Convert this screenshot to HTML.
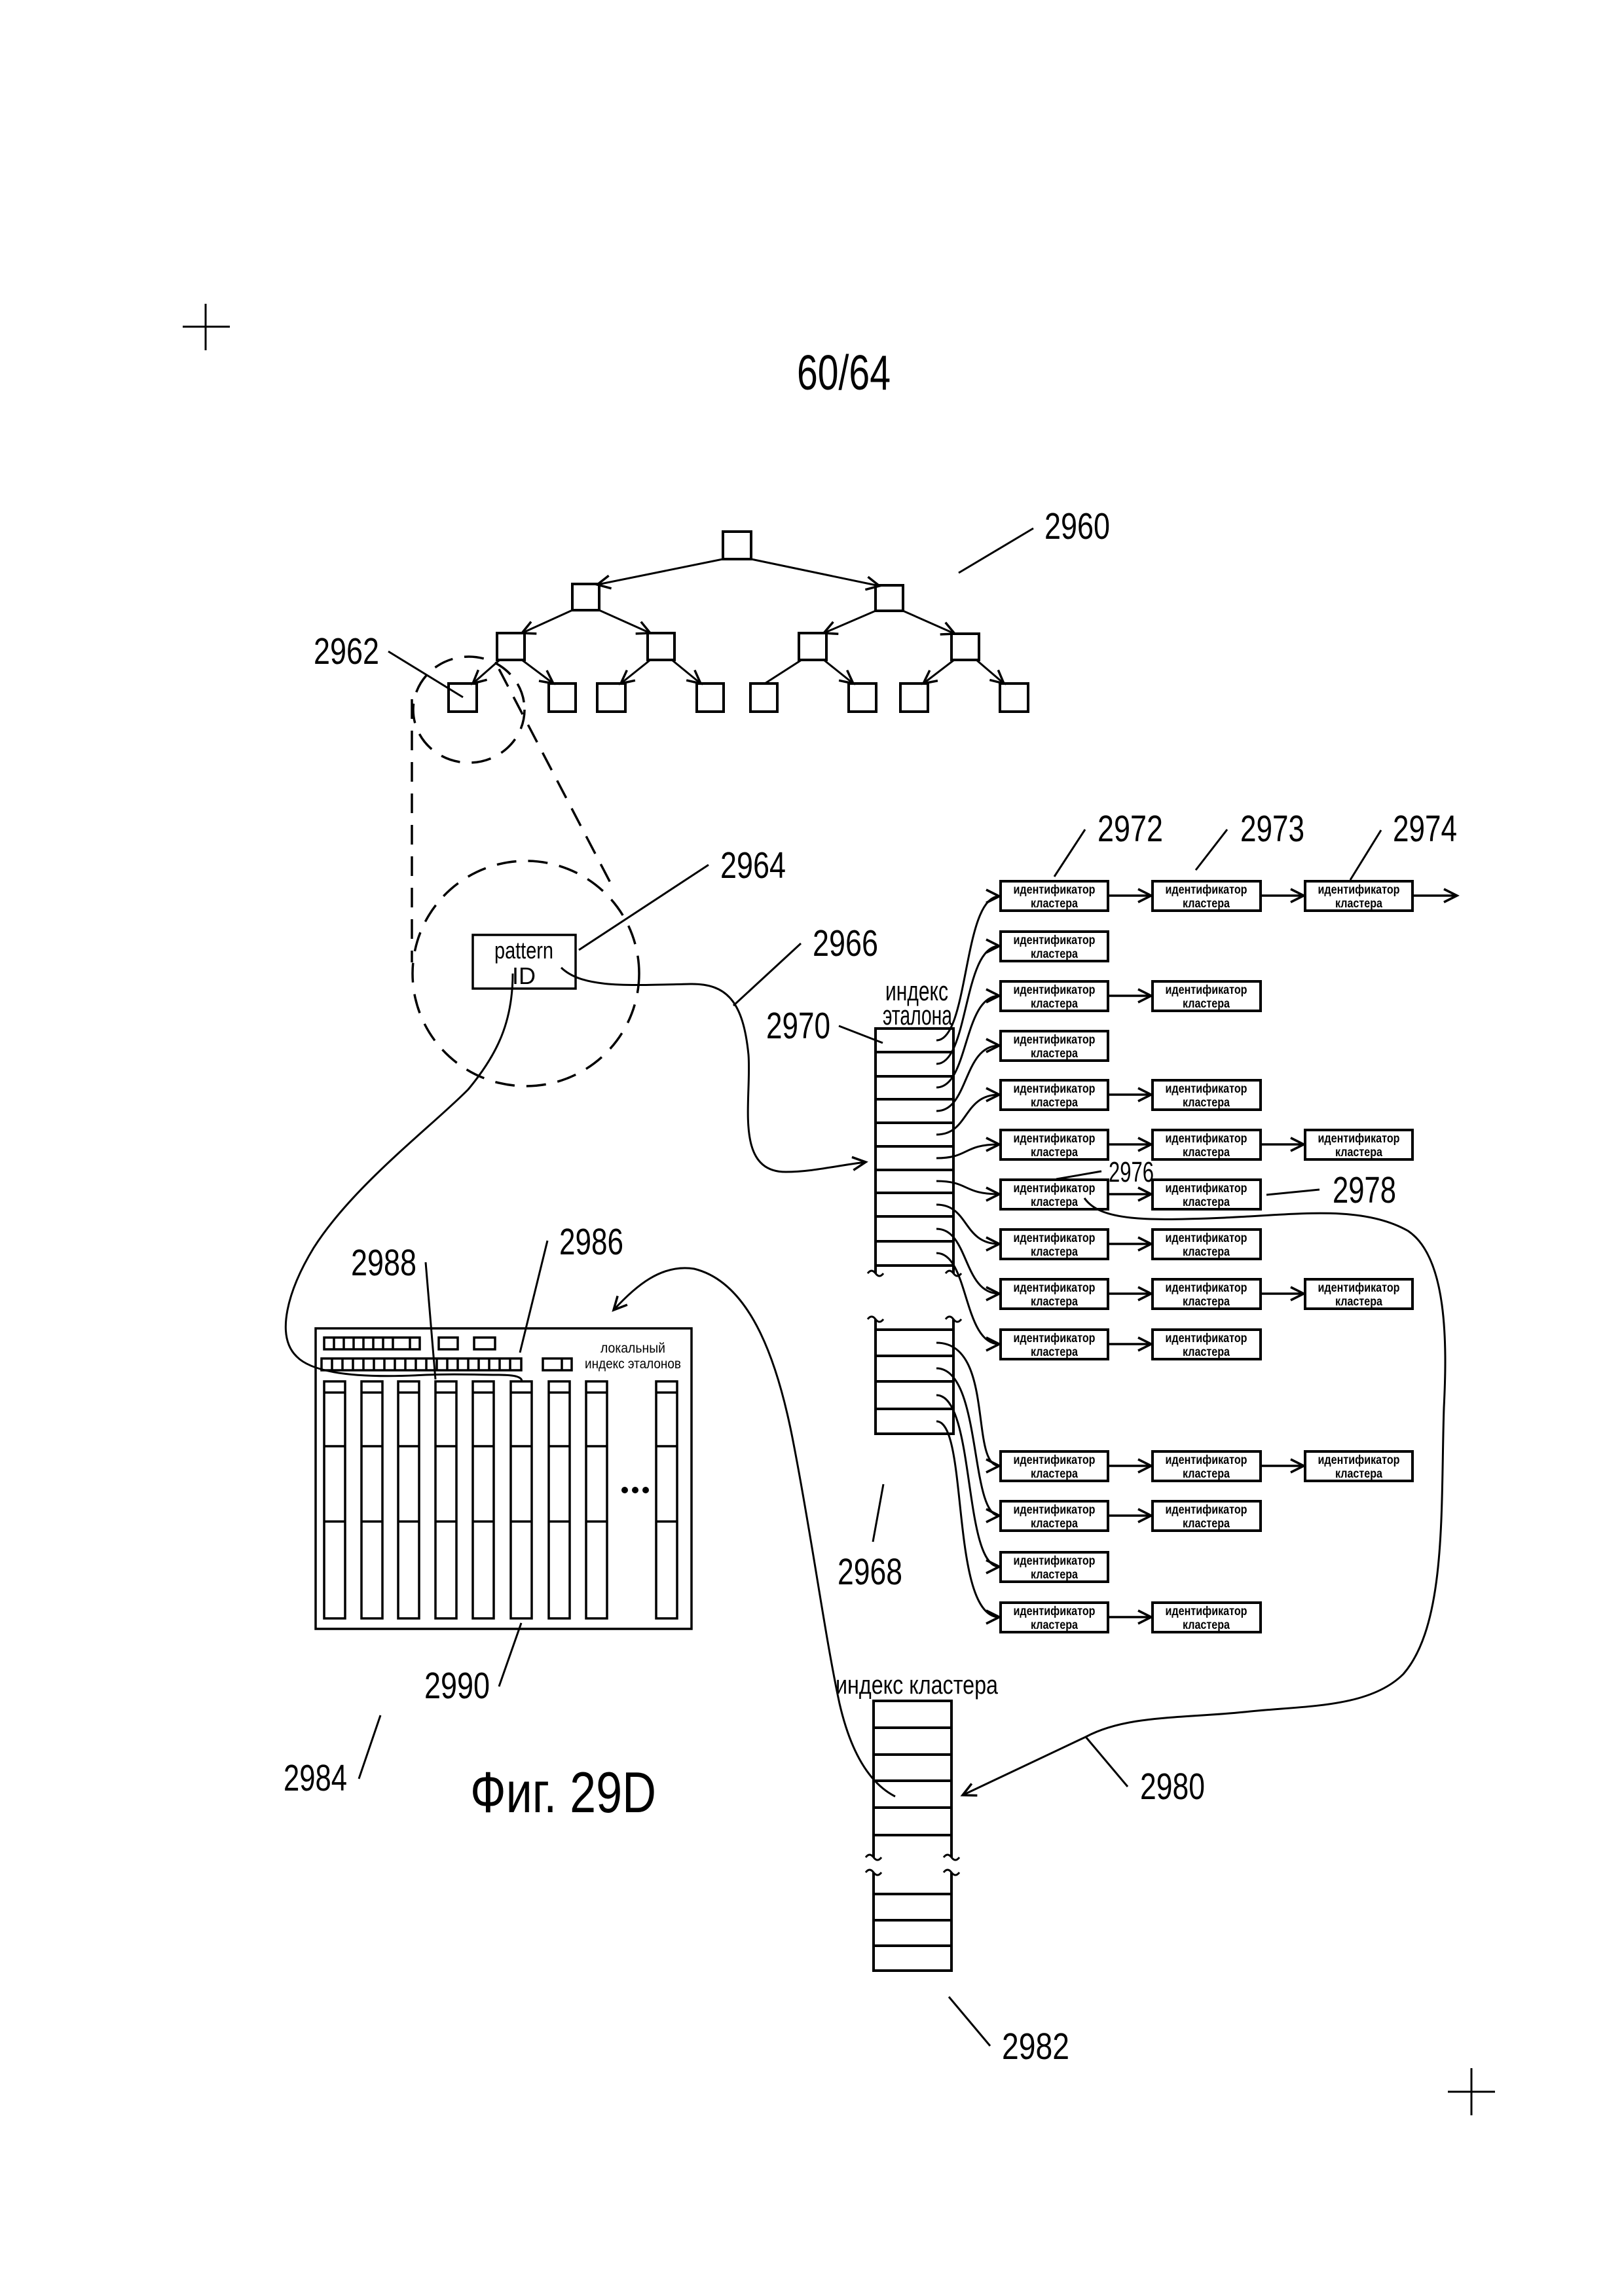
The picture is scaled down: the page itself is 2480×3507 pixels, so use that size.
<!DOCTYPE html>
<html><head><meta charset="utf-8"><style>
html,body{margin:0;padding:0;background:#fff}
svg{display:block}
text{font-family:"Liberation Sans Narrow","Liberation Sans",sans-serif;fill:#000}
.b text{font-size:19px;font-weight:bold;text-anchor:middle}
</style></head><body>
<svg width="2480" height="3507" viewBox="0 0 2480 3507" xmlns="http://www.w3.org/2000/svg">
<defs>
<marker id="a" markerUnits="userSpaceOnUse" markerWidth="30" markerHeight="30" refX="22" refY="12" orient="auto"><path d="M2,2 L22,12 L2,22" fill="none" stroke="#000" stroke-width="3.5"/></marker>
</defs>
<g stroke="#000" fill="none" stroke-width="3">
<path d="M279,499 H351 M314,464 V535"/>
<path d="M2211,3195 H2283 M2247,3159 V3231"/>
</g>
<text x="1217" y="595" font-size="75" textLength="143" lengthAdjust="spacingAndGlyphs">60/64</text>

<!-- tree -->
<g stroke="#000" fill="none" stroke-width="4">
<rect x="1104" y="812" width="43" height="42"/>
<rect x="874" y="892" width="41" height="40"/>
<rect x="1337" y="894" width="42" height="39"/>
<rect x="759" y="967" width="42" height="41"/>
<rect x="989" y="967" width="41" height="41"/>
<rect x="1220" y="967" width="42" height="41"/>
<rect x="1453" y="968" width="42" height="40"/>
<rect x="685" y="1044" width="43" height="43"/>
<rect x="838" y="1044" width="41" height="43"/>
<rect x="912" y="1044" width="43" height="43"/>
<rect x="1064" y="1044" width="41" height="43"/>
<rect x="1146" y="1044" width="41" height="43"/>
<rect x="1296" y="1044" width="42" height="43"/>
<rect x="1375" y="1044" width="42" height="43"/>
<rect x="1527" y="1044" width="43" height="43"/>
</g>
<g stroke="#000" fill="none" stroke-width="3" marker-end="url(#a)">
<path d="M1104,854 L912,893"/>
<path d="M1147,854 L1343,895"/>
<path d="M874,932 L797,967"/>
<path d="M915,932 L993,967"/>
<path d="M1337,933 L1258,967"/>
<path d="M1379,933 L1458,968"/>
<path d="M763,1008 L722,1044"/>
<path d="M797,1008 L845,1044"/>
<path d="M993,1008 L948,1044"/>
<path d="M1026,1008 L1070,1044"/>
<path d="M1258,1008 L1303,1044"/>
<path d="M1457,1008 L1410,1044"/>
<path d="M1491,1008 L1533,1044"/>
</g>
<path d="M1224,1008 L1168,1044" stroke="#000" stroke-width="3"/>

<g stroke="#000" stroke-width="3" fill="none">
<path d="M1464,875 L1578,807"/>
<path d="M593,995 L707,1065"/>
<path d="M884,1451 L1082,1321"/>
<path d="M1120,1536 L1223,1441"/>
<path d="M1281,1567 L1348,1593"/>
<path d="M1610,1339 L1657,1267"/>
<path d="M1826,1329 L1874,1267"/>
<path d="M2062,1344 L2109,1268"/>
<path d="M1613,1801 L1682,1789"/>
<path d="M1934,1825 L2015,1817"/>
<path d="M1333,2355 L1349,2267"/>
<path d="M1658,2653 L1722,2729"/>
<path d="M1449,3050 L1512,3125"/>
<path d="M548,2717 L581,2620"/>
<path d="M762,2576 L796,2479"/>
<path d="M650,1928 L665,2107"/>
<path d="M836,1895 L794,2066"/>
</g>
<g font-size="57">
<text x="1595" y="823" textLength="100" lengthAdjust="spacingAndGlyphs">2960</text>
<text x="479" y="1014" textLength="100" lengthAdjust="spacingAndGlyphs">2962</text>
<text x="1100" y="1341" textLength="100" lengthAdjust="spacingAndGlyphs">2964</text>
<text x="1241" y="1460" textLength="100" lengthAdjust="spacingAndGlyphs">2966</text>
<text x="1170" y="1586" textLength="98" lengthAdjust="spacingAndGlyphs">2970</text>
<text x="1676" y="1285" textLength="100" lengthAdjust="spacingAndGlyphs">2972</text>
<text x="1894" y="1285" textLength="98" lengthAdjust="spacingAndGlyphs">2973</text>
<text x="2127" y="1285" textLength="98" lengthAdjust="spacingAndGlyphs">2974</text>
<text x="2035" y="1837" textLength="97" lengthAdjust="spacingAndGlyphs">2978</text>
<text x="1279" y="2420" textLength="99" lengthAdjust="spacingAndGlyphs">2968</text>
<text x="1741" y="2748" textLength="99" lengthAdjust="spacingAndGlyphs">2980</text>
<text x="1530" y="3145" textLength="103" lengthAdjust="spacingAndGlyphs">2982</text>
<text x="433" y="2735" textLength="97" lengthAdjust="spacingAndGlyphs">2984</text>
<text x="648" y="2594" textLength="100" lengthAdjust="spacingAndGlyphs">2990</text>
<text x="536" y="1948" textLength="100" lengthAdjust="spacingAndGlyphs">2988</text>
<text x="854" y="1916" textLength="98" lengthAdjust="spacingAndGlyphs">2986</text>
</g>
<text x="1693" y="1805" font-size="44" textLength="69" lengthAdjust="spacingAndGlyphs">2976</text>
<text x="718" y="2768" font-size="88" textLength="284" lengthAdjust="spacingAndGlyphs">Фиг. 29D</text>

<g stroke="#000" stroke-width="3.5" fill="none" stroke-dasharray="30 18">
<ellipse cx="716" cy="1084" rx="85" ry="81"/>
<ellipse cx="803" cy="1487" rx="173" ry="172"/>
<path d="M629,1068 L629,1470"/>
<path d="M762,1022 L933,1350"/>
</g>

<rect x="722" y="1428" width="157" height="82" stroke="#000" stroke-width="3.5" fill="#fff"/>
<text x="755" y="1464" font-size="36" textLength="90" lengthAdjust="spacingAndGlyphs">pattern</text>
<text x="800" y="1503" font-size="36" text-anchor="middle">ID</text>

<text x="1352" y="1528" font-size="42" textLength="96" lengthAdjust="spacingAndGlyphs">индекс</text>
<text x="1348" y="1565" font-size="42" textLength="106" lengthAdjust="spacingAndGlyphs">эталона</text>
<text x="1276" y="2587" font-size="40" textLength="248" lengthAdjust="spacingAndGlyphs">индекс кластера</text>

<g stroke="#000" stroke-width="4" fill="none">
<path d="M1337,1945 V1571 H1456 V1945"/>
<path d="M1337,1607 H1456 M1337,1644 H1456 M1337,1679 H1456 M1337,1715 H1456 M1337,1751 H1456 M1337,1787 H1456 M1337,1822 H1456 M1337,1858 H1456 M1337,1896 H1456 M1337,1933 H1456"/>
<path d="M1337,2015 V2190 H1456 V2015 M1337,2031 H1456 M1337,2071 H1456 M1337,2110 H1456 M1337,2152 H1456"/>
<path d="M1334,2837 V2598 H1453 V2837 M1334,2639 H1453 M1334,2680 H1453 M1334,2720 H1453 M1334,2761 H1453 M1334,2803 H1453"/>
<path d="M1334,2860 V3010 H1453 V2860 M1334,2893 H1453 M1334,2933 H1453 M1334,2972 H1453"/>
</g>
<g stroke="#000" stroke-width="3" fill="none">
<path d="M1325,1945 q6,-8 12,0 q6,8 12,0 M1444,1945 q6,-8 12,0 q6,8 12,0"/>
<path d="M1325,2015 q6,-8 12,0 q6,8 12,0 M1444,2015 q6,-8 12,0 q6,8 12,0"/>
<path d="M1322,2837 q6,-8 12,0 q6,8 12,0 M1441,2837 q6,-8 12,0 q6,8 12,0"/>
<path d="M1322,2860 q6,-8 12,0 q6,8 12,0 M1441,2860 q6,-8 12,0 q6,8 12,0"/>
</g>

<g class="b" stroke-width="0">
<g transform="translate(1528,1346)"><rect width="164" height="45" fill="#fff" stroke="#000" stroke-width="4"/><text x="82" y="19" textLength="125" lengthAdjust="spacingAndGlyphs">идентификатор</text><text x="82" y="40" textLength="72" lengthAdjust="spacingAndGlyphs">кластера</text></g>
<g transform="translate(1760,1346)"><rect width="165" height="45" fill="#fff" stroke="#000" stroke-width="4"/><text x="82" y="19" textLength="125" lengthAdjust="spacingAndGlyphs">идентификатор</text><text x="82" y="40" textLength="72" lengthAdjust="spacingAndGlyphs">кластера</text></g>
<g transform="translate(1993,1346)"><rect width="164" height="45" fill="#fff" stroke="#000" stroke-width="4"/><text x="82" y="19" textLength="125" lengthAdjust="spacingAndGlyphs">идентификатор</text><text x="82" y="40" textLength="72" lengthAdjust="spacingAndGlyphs">кластера</text></g>
<g transform="translate(1528,1423)"><rect width="164" height="45" fill="#fff" stroke="#000" stroke-width="4"/><text x="82" y="19" textLength="125" lengthAdjust="spacingAndGlyphs">идентификатор</text><text x="82" y="40" textLength="72" lengthAdjust="spacingAndGlyphs">кластера</text></g>
<g transform="translate(1528,1499)"><rect width="164" height="45" fill="#fff" stroke="#000" stroke-width="4"/><text x="82" y="19" textLength="125" lengthAdjust="spacingAndGlyphs">идентификатор</text><text x="82" y="40" textLength="72" lengthAdjust="spacingAndGlyphs">кластера</text></g>
<g transform="translate(1760,1499)"><rect width="165" height="45" fill="#fff" stroke="#000" stroke-width="4"/><text x="82" y="19" textLength="125" lengthAdjust="spacingAndGlyphs">идентификатор</text><text x="82" y="40" textLength="72" lengthAdjust="spacingAndGlyphs">кластера</text></g>
<g transform="translate(1528,1575)"><rect width="164" height="45" fill="#fff" stroke="#000" stroke-width="4"/><text x="82" y="19" textLength="125" lengthAdjust="spacingAndGlyphs">идентификатор</text><text x="82" y="40" textLength="72" lengthAdjust="spacingAndGlyphs">кластера</text></g>
<g transform="translate(1528,1650)"><rect width="164" height="45" fill="#fff" stroke="#000" stroke-width="4"/><text x="82" y="19" textLength="125" lengthAdjust="spacingAndGlyphs">идентификатор</text><text x="82" y="40" textLength="72" lengthAdjust="spacingAndGlyphs">кластера</text></g>
<g transform="translate(1760,1650)"><rect width="165" height="45" fill="#fff" stroke="#000" stroke-width="4"/><text x="82" y="19" textLength="125" lengthAdjust="spacingAndGlyphs">идентификатор</text><text x="82" y="40" textLength="72" lengthAdjust="spacingAndGlyphs">кластера</text></g>
<g transform="translate(1528,1726)"><rect width="164" height="45" fill="#fff" stroke="#000" stroke-width="4"/><text x="82" y="19" textLength="125" lengthAdjust="spacingAndGlyphs">идентификатор</text><text x="82" y="40" textLength="72" lengthAdjust="spacingAndGlyphs">кластера</text></g>
<g transform="translate(1760,1726)"><rect width="165" height="45" fill="#fff" stroke="#000" stroke-width="4"/><text x="82" y="19" textLength="125" lengthAdjust="spacingAndGlyphs">идентификатор</text><text x="82" y="40" textLength="72" lengthAdjust="spacingAndGlyphs">кластера</text></g>
<g transform="translate(1993,1726)"><rect width="164" height="45" fill="#fff" stroke="#000" stroke-width="4"/><text x="82" y="19" textLength="125" lengthAdjust="spacingAndGlyphs">идентификатор</text><text x="82" y="40" textLength="72" lengthAdjust="spacingAndGlyphs">кластера</text></g>
<g transform="translate(1528,1802)"><rect width="164" height="45" fill="#fff" stroke="#000" stroke-width="4"/><text x="82" y="19" textLength="125" lengthAdjust="spacingAndGlyphs">идентификатор</text><text x="82" y="40" textLength="72" lengthAdjust="spacingAndGlyphs">кластера</text></g>
<g transform="translate(1760,1802)"><rect width="165" height="45" fill="#fff" stroke="#000" stroke-width="4"/><text x="82" y="19" textLength="125" lengthAdjust="spacingAndGlyphs">идентификатор</text><text x="82" y="40" textLength="72" lengthAdjust="spacingAndGlyphs">кластера</text></g>
<g transform="translate(1528,1878)"><rect width="164" height="45" fill="#fff" stroke="#000" stroke-width="4"/><text x="82" y="19" textLength="125" lengthAdjust="spacingAndGlyphs">идентификатор</text><text x="82" y="40" textLength="72" lengthAdjust="spacingAndGlyphs">кластера</text></g>
<g transform="translate(1760,1878)"><rect width="165" height="45" fill="#fff" stroke="#000" stroke-width="4"/><text x="82" y="19" textLength="125" lengthAdjust="spacingAndGlyphs">идентификатор</text><text x="82" y="40" textLength="72" lengthAdjust="spacingAndGlyphs">кластера</text></g>
<g transform="translate(1528,1954)"><rect width="164" height="45" fill="#fff" stroke="#000" stroke-width="4"/><text x="82" y="19" textLength="125" lengthAdjust="spacingAndGlyphs">идентификатор</text><text x="82" y="40" textLength="72" lengthAdjust="spacingAndGlyphs">кластера</text></g>
<g transform="translate(1760,1954)"><rect width="165" height="45" fill="#fff" stroke="#000" stroke-width="4"/><text x="82" y="19" textLength="125" lengthAdjust="spacingAndGlyphs">идентификатор</text><text x="82" y="40" textLength="72" lengthAdjust="spacingAndGlyphs">кластера</text></g>
<g transform="translate(1993,1954)"><rect width="164" height="45" fill="#fff" stroke="#000" stroke-width="4"/><text x="82" y="19" textLength="125" lengthAdjust="spacingAndGlyphs">идентификатор</text><text x="82" y="40" textLength="72" lengthAdjust="spacingAndGlyphs">кластера</text></g>
<g transform="translate(1528,2031)"><rect width="164" height="45" fill="#fff" stroke="#000" stroke-width="4"/><text x="82" y="19" textLength="125" lengthAdjust="spacingAndGlyphs">идентификатор</text><text x="82" y="40" textLength="72" lengthAdjust="spacingAndGlyphs">кластера</text></g>
<g transform="translate(1760,2031)"><rect width="165" height="45" fill="#fff" stroke="#000" stroke-width="4"/><text x="82" y="19" textLength="125" lengthAdjust="spacingAndGlyphs">идентификатор</text><text x="82" y="40" textLength="72" lengthAdjust="spacingAndGlyphs">кластера</text></g>
<g transform="translate(1528,2217)"><rect width="164" height="45" fill="#fff" stroke="#000" stroke-width="4"/><text x="82" y="19" textLength="125" lengthAdjust="spacingAndGlyphs">идентификатор</text><text x="82" y="40" textLength="72" lengthAdjust="spacingAndGlyphs">кластера</text></g>
<g transform="translate(1760,2217)"><rect width="165" height="45" fill="#fff" stroke="#000" stroke-width="4"/><text x="82" y="19" textLength="125" lengthAdjust="spacingAndGlyphs">идентификатор</text><text x="82" y="40" textLength="72" lengthAdjust="spacingAndGlyphs">кластера</text></g>
<g transform="translate(1993,2217)"><rect width="164" height="45" fill="#fff" stroke="#000" stroke-width="4"/><text x="82" y="19" textLength="125" lengthAdjust="spacingAndGlyphs">идентификатор</text><text x="82" y="40" textLength="72" lengthAdjust="spacingAndGlyphs">кластера</text></g>
<g transform="translate(1528,2293)"><rect width="164" height="45" fill="#fff" stroke="#000" stroke-width="4"/><text x="82" y="19" textLength="125" lengthAdjust="spacingAndGlyphs">идентификатор</text><text x="82" y="40" textLength="72" lengthAdjust="spacingAndGlyphs">кластера</text></g>
<g transform="translate(1760,2293)"><rect width="165" height="45" fill="#fff" stroke="#000" stroke-width="4"/><text x="82" y="19" textLength="125" lengthAdjust="spacingAndGlyphs">идентификатор</text><text x="82" y="40" textLength="72" lengthAdjust="spacingAndGlyphs">кластера</text></g>
<g transform="translate(1528,2371)"><rect width="164" height="45" fill="#fff" stroke="#000" stroke-width="4"/><text x="82" y="19" textLength="125" lengthAdjust="spacingAndGlyphs">идентификатор</text><text x="82" y="40" textLength="72" lengthAdjust="spacingAndGlyphs">кластера</text></g>
<g transform="translate(1528,2448)"><rect width="164" height="45" fill="#fff" stroke="#000" stroke-width="4"/><text x="82" y="19" textLength="125" lengthAdjust="spacingAndGlyphs">идентификатор</text><text x="82" y="40" textLength="72" lengthAdjust="spacingAndGlyphs">кластера</text></g>
<g transform="translate(1760,2448)"><rect width="165" height="45" fill="#fff" stroke="#000" stroke-width="4"/><text x="82" y="19" textLength="125" lengthAdjust="spacingAndGlyphs">идентификатор</text><text x="82" y="40" textLength="72" lengthAdjust="spacingAndGlyphs">кластера</text></g>
</g>

<g stroke="#000" stroke-width="3.5" fill="none" marker-end="url(#a)">
<path d="M1692,1368 H1758"/><path d="M1925,1368 H1991"/><path d="M2157,1368 H2225"/>
<path d="M1692,1521 H1758"/>
<path d="M1692,1672 H1758"/>
<path d="M1692,1748 H1758"/><path d="M1925,1748 H1991"/>
<path d="M1692,1824 H1758"/>
<path d="M1692,1900 H1758"/>
<path d="M1692,1976 H1758"/><path d="M1925,1976 H1991"/>
<path d="M1692,2053 H1758"/>
<path d="M1692,2239 H1758"/><path d="M1925,2239 H1991"/>
<path d="M1692,2315 H1758"/>
<path d="M1692,2470 H1758"/>
</g>

<g stroke="#000" stroke-width="3" fill="none" marker-end="url(#a)">
<path d="M1430,1589 C1480,1589 1470,1369 1526,1369"/>
<path d="M1430,1625 C1480,1625 1470,1445 1526,1445"/>
<path d="M1430,1661 C1480,1661 1470,1521 1526,1521"/>
<path d="M1430,1697 C1480,1697 1470,1597 1526,1597"/>
<path d="M1430,1733 C1480,1733 1470,1672 1526,1672"/>
<path d="M1430,1769 C1480,1769 1470,1748 1526,1748"/>
<path d="M1430,1804 C1480,1804 1470,1824 1526,1824"/>
<path d="M1430,1840 C1480,1840 1470,1900 1526,1900"/>
<path d="M1430,1877 C1480,1877 1470,1976 1526,1976"/>
<path d="M1430,1914 C1480,1914 1470,2053 1526,2053"/>
<path d="M1430,2051 C1520,2051 1480,2239 1526,2239"/>
<path d="M1430,2090 C1500,2090 1480,2315 1526,2315"/>
<path d="M1430,2131 C1490,2131 1470,2393 1526,2393"/>
<path d="M1430,2171 C1480,2171 1450,2470 1526,2470"/>
</g>

<g stroke="#000" stroke-width="3" fill="none">
<path d="M857,1478 C890,1510 960,1505 1054,1503 C1110,1502 1135,1530 1143,1611 C1148,1680 1120,1790 1200,1790 C1240,1790 1280,1780 1322,1775" marker-end="url(#a)"/>
<path d="M783,1487 C783,1560 760,1610 715,1664 C660,1720 540,1810 479,1906 C440,1970 420,2040 453,2072 C480,2100 560,2105 651,2100 C700,2098 720,2100 760,2100 C790,2100 797,2104 797,2110"/>
<path d="M1367,2744 C1330,2725 1300,2680 1282,2602 C1260,2500 1240,2350 1212,2206 C1190,2090 1150,1960 1060,1938 C1010,1930 970,1965 937,2001" marker-end="url(#a)"/>
<path d="M1656,1830 C1680,1865 1750,1865 1870,1860 C1980,1855 2080,1840 2150,1880 C2210,1920 2210,2050 2205,2150 C2200,2300 2210,2480 2143,2557 C2090,2610 1990,2605 1900,2615 C1800,2625 1720,2620 1658,2653 L1470,2742" marker-end="url(#a)"/>
</g>

<g stroke="#000" stroke-width="3.5" fill="none">
<rect x="482" y="2029" width="574" height="459"/>
<rect x="495" y="2043" width="146" height="18"/>
<path d="M510,2043 V2061 M525,2043 V2061 M540,2043 V2061 M555,2043 V2061 M570,2043 V2061 M585,2043 V2061 M600,2043 V2061 M626,2043 V2061"/>
<rect x="670" y="2043" width="29" height="18"/>
<rect x="724" y="2043" width="32" height="18"/>
<rect x="491" y="2075" width="305" height="18"/>
<path d="M507,2075 V2093 M523,2075 V2093 M539,2075 V2093 M555,2075 V2093 M571,2075 V2093 M587,2075 V2093 M603,2075 V2093 M619,2075 V2093 M635,2075 V2093 M651,2075 V2093 M667,2075 V2093 M683,2075 V2093 M699,2075 V2093 M715,2075 V2093 M731,2075 V2093 M747,2075 V2093 M763,2075 V2093 M779,2075 V2093"/>
<rect x="829" y="2075" width="44" height="18"/>
<path d="M858,2075 V2093"/>
</g>
<g stroke="#000" stroke-width="3.5" fill="none">
<path d="M495,2110 h32 v362 h-32 z M495,2127 h32 M495,2209 h32 M495,2324 h32"/>
<path d="M552,2110 h32 v362 h-32 z M552,2127 h32 M552,2209 h32 M552,2324 h32"/>
<path d="M608,2110 h32 v362 h-32 z M608,2127 h32 M608,2209 h32 M608,2324 h32"/>
<path d="M665,2110 h32 v362 h-32 z M665,2127 h32 M665,2209 h32 M665,2324 h32"/>
<path d="M722,2110 h32 v362 h-32 z M722,2127 h32 M722,2209 h32 M722,2324 h32"/>
<path d="M780,2110 h32 v362 h-32 z M780,2127 h32 M780,2209 h32 M780,2324 h32"/>
<path d="M838,2110 h32 v362 h-32 z M838,2127 h32 M838,2209 h32 M838,2324 h32"/>
<path d="M895,2110 h32 v362 h-32 z M895,2127 h32 M895,2209 h32 M895,2324 h32"/>
<path d="M1002,2110 h32 v362 h-32 z M1002,2127 h32 M1002,2209 h32 M1002,2324 h32"/>
</g>
<g fill="#000">
<circle cx="954" cy="2276" r="5"/><circle cx="970" cy="2276" r="5"/><circle cx="986" cy="2276" r="5"/>
</g>
<text x="917" y="2066" font-size="21" textLength="99" lengthAdjust="spacingAndGlyphs">локальный</text>
<text x="893" y="2090" font-size="21" textLength="147" lengthAdjust="spacingAndGlyphs">индекс эталонов</text>
</svg>
</body></html>
